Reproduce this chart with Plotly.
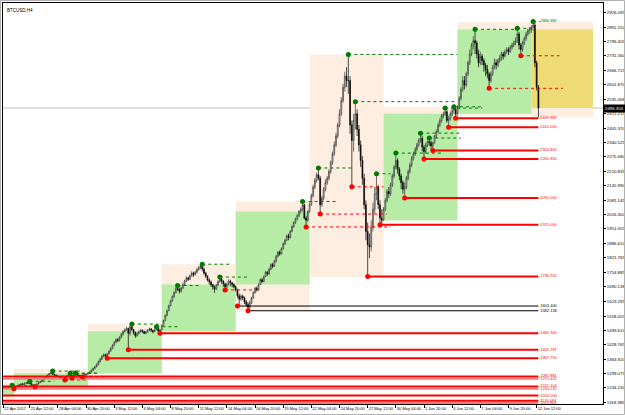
import plotly.graph_objects as go
import pandas as pd

# ---------------- data (BTCUSD H4) ----------------
start = pd.Timestamp("2017-04-22 20:00")
open0 = 1228
close = [1236,1232,1238,1241,1237,1240,1242,1235,1238,1244,
         1248,1252,1250,1255,1258,1256,1254,1248,1244,1246,
         1252,1258,1264,1270,1278,1285,1292,1298,1302,1296,
         1292,1288,1284,1280,1278,1275,1282,1288,1294,1290,
         1286,1294,1296,1292,1290,1288,1290,1294,1296,1300,
         1306,1314,1322,1330,1340,1352,1364,1376,1384,1378,
         1388,1400,1412,1426,1440,1452,1448,1462,1476,1488,
         1496,1502,1480,1510,1498,1484,1470,1478,1488,1494,
         1488,1480,1486,1494,1500,1494,1488,1496,1504,1490,
         1496,1516,1538,1560,1582,1604,1626,1646,1664,1682,
         1680,1670,1684,1700,1716,1730,1724,1740,1752,1746,
         1756,1768,1776,1782,1770,1752,1738,1722,1712,1700,
         1690,1680,1698,1714,1726,1716,1704,1690,1702,1716,1708,1700,
         1690,1676,1650,1634,1648,1640,1622,1610,1598,1618,
         1640,1664,1684,1676,1700,1722,1714,1736,1756,1748,
         1770,1790,1782,1806,1828,1846,1838,1862,1884,1900,
         1920,1912,1940,1962,1980,1996,2012,2030,
         2040,2060,2000,1990,2030,2060,
         2100,2140,2170,2195,2180,
         2060,
         2090,2130,2160,2180,2210,2250,2290,2330,2370,2420,2470,2530,2590,2640,2620,
         2620,2420,2350,2440,2470,
         2400,2330,2260,2180,2060,1940,1880,1870,1960,2040,
         2110,2140,2060,2000,1990,
         2040,2080,2120,2110,2150,2190,2230,2260,
         2220,2190,2160,2130,2140,
         2180,2210,2240,2270,2290,2310,2330,2350,2360,
         2320,2300,2330,2345,2340,2325,2340,
         2370,2390,2420,2440,2460,2470,2480,
         2440,2450,2470,2485,2490,2470,
         2500,2540,2580,2620,2600,2650,2700,2740,2780,2800,2790,
         2740,2700,2730,2710,2690,2670,2650,
         2620,
         2650,2680,2700,2690,2710,2720,2740,2730,2750,2760,2750,2770,2780,2790,2800,
         2830,2780,2760,
         2790,2810,2830,2845,2850,
         2860,2870,2700,2590,2496.353]
high = [1240,1238,1242,1244,1242,1243,1246,1243,1242,1248,
        1250,1255,1256,1258,1260,1262,1264,1256,1250,1249,
        1254,1260,1266,1273,1281,1288,1295,1302,1306,1310,
        1298,1294,1290,1286,1282,1280,1285,1291,1297,1300,
        1292,1297,1301,1298,1294,1292,1293,1297,1299,1303,
        1308,1318,1326,1334,1345,1358,1370,1382,1390,1388,
        1392,1404,1418,1432,1446,1458,1458,1468,1482,1494,
        1502,1510,1506,1516,1522,1500,1488,1486,1494,1500,
        1498,1492,1492,1500,1506,1504,1496,1502,1510,1508,
        1500,1520,1542,1566,1588,1610,1632,1652,1670,1690,
        1696,1686,1690,1708,1722,1738,1736,1746,1760,1758,
        1762,1774,1784,1788,1792,1776,1758,1742,1728,1718,
        1702,1696,1704,1720,1734,1730,1720,1708,1710,1724,1722,1712,
        1706,1696,1682,1660,1656,1654,1646,1630,1620,1628,
        1646,1670,1690,1692,1706,1728,1730,1742,1762,1762,
        1776,1796,1798,1812,1834,1852,1854,1868,1890,1906,
        1926,1930,1946,1968,1986,2002,2018,2036,
        2048,2075,2064,2010,2036,2070,
        2110,2150,2180,2205,2226,
        2190,
        2100,2140,2175,2190,2220,2260,2300,2345,2385,2430,2490,2545,2605,2660,2680,
        2738,2640,2440,2470,2525,
        2490,2420,2350,2280,2200,2080,1980,1930,1990,2070,
        2140,2200,2150,2080,2040,
        2050,2090,2130,2140,2160,2200,2240,2293,
        2270,2230,2200,2170,2160,
        2190,2220,2250,2280,2300,2320,2340,2360,2383,
        2370,2330,2340,2350,2361,2350,2345,
        2375,2400,2430,2450,2470,2480,2496,
        2490,2460,2480,2495,2502,2495,
        2510,2550,2590,2640,2640,2660,2710,2760,2790,2820,2851,
        2800,2760,2750,2740,2720,2700,2690,
        2660,
        2660,2690,2720,2715,2720,2735,2750,2750,2760,2770,2770,2780,2790,2800,2815,
        2856,2840,2790,
        2800,2820,2840,2855,2862,
        2870,2886.881,2880,2710,2600]
low = [1226,1228,1230,1236,1233,1235,1238,1230,1233,1236,
       1242,1246,1247,1249,1253,1252,1250,1246,1241,1240,
       1244,1250,1256,1262,1268,1276,1284,1290,1296,1292,
       1288,1284,1280,1276,1274,1271,1270,1281,1286,1286,
       1279,1285,1290,1288,1286,1285,1284,1288,1288,1294,
       1296,1302,1310,1318,1326,1336,1348,1360,1372,1370,
       1367.75,1384,1398,1408,1422,1436,1440,1444,1458,1470,
       1484,1490,1405.787,1470,1490,1474,1460,1464,1476,1484,
       1482,1482,1476,1484,1490,1486,1480,1486,1494,1484,
       1480.3,1494,1514,1536,1558,1580,1602,1622,1640,1660,
       1672,1660,1664,1680,1698,1712,1716,1720,1736,1734,
       1740,1750,1762,1770,1760,1744,1730,1714,1700,1690,
       1676,1662,1676,1694,1708,1702,1690,1676,1684,1696,1694,1688,
       1684,1668,1640,1603.4,1628,1630,1612,1600,1582.158,1590,
       1612,1636,1660,1668,1672,1698,1706,1712,1734,1740,
       1744,1764,1774,1780,1800,1822,1830,1836,1858,1878,
       1896,1900,1908,1936,1956,1974,1990,2004,
       2020,2030,1994,1960,1984,2024,
       2056,2094,2130,2160,2170,
       2018,
       2050,2080,2120,2150,2170,2200,2240,2280,2320,2360,2410,2460,2520,2570,2590,
       2560,2380,2141,2300,2400,
       2370,2300,2230,2150,2040,1900,1736.921,1820,1850,1940,
       2020,2080,2040,1970,1975,
       1988,2030,2070,2090,2100,2140,2180,2220,
       2200,2170,2130,2110,2090,
       2130,2170,2200,2230,2260,2280,2300,2320,2340,
       2300,2265.85,2290,2320,2325,2310,2304.85,
       2335,2360,2385,2410,2430,2450,2460,
       2430,2410,2440,2460,2470,2449.882,
       2462,2490,2530,2570,2580,2590,2640,2690,2730,2760,2740,
       2720,2680,2690,2690,2660,2640,2630,
       2585,
       2610,2640,2670,2670,2680,2700,2710,2715,2725,2740,2735,2745,2760,2770,2780,
       2790,2760,2732,
       2750,2780,2800,2820,2830,
       2835,2845,2680,2575,2455]

# weekly ranges (open/close box, high/low box)
week_start = ["2017-04-17", "2017-04-24", "2017-05-01", "2017-05-08", "2017-05-15",
              "2017-05-22", "2017-05-29", "2017-06-05", "2017-06-12"]
week_end_last = "2017-06-17 20:00"
week_open = [1195, 1242, 1300, 1490, 1700, 2030, 1990, 2470, 2850]
week_close = [1242, 1300, 1490, 1700, 2030, 1990, 2470, 2850, 2496.353]
week_high = [1262, 1320, 1522, 1792, 2075, 2738, 2502, 2884, 2886.881]
week_low = [1180, 1230, 1296, 1480, 1582, 1734, 1988, 2462, 2455]

# swing highs (bar index, price, end of dotted line)
hi_bar = [6, 16, 29, 39, 42, 74, 88, 100, 114, 124, 171, 180, 197, 201, 213, 224, 238, 243, 252, 257, 269, 293, 302]
hi_price = [1246, 1264, 1310, 1300, 1301, 1522, 1510, 1696, 1792, 1734, 2075, 2226, 2738, 2525, 2200, 2293, 2383, 2361, 2496, 2502, 2851, 2856, 2886.881]
hi_end = [20, 30, 45, 55, 55, 90, 100, 112, 130, 140, 190, 199, 259, 259, 221, 251, 261, 261, 273, 273, 293, 302, 306]

# swing lows (bar index, price, end of dotted line, None = solid level)
lo_bar = [7, 19, 36, 40, 46, 60, 72, 90, 127, 134, 140, 173, 181, 199, 208, 215, 229, 240, 245, 254, 258, 277, 295]
lo_price = [1230, 1240, 1270, 1279, 1284, 1367.75, 1405.787, 1480.3, 1676, 1603.4, 1582.158, 1960, 2018, 2141, 1736.921, 1970, 2090, 2265.85, 2304.85, 2410, 2449.882, 2585, 2732]
lo_end = [20, 30, 48, 55, 60, None, None, None, 145, None, None, 221, 219, 217, None, None, None, None, None, None, None, 319, 317]

# solid levels running to the last bar
lvl_price = [2449.882, 2410.000, 2304.850, 2265.850, 2090.000, 1970.000, 1736.921,
             1603.400, 1582.158, 1480.300, 1405.787, 1367.750,
             1285.881, 1275.425, 1241.104, 1230.215, 1200.000, 1176.094, 1165.864]
lvl_start = [258, 254, 245, 240, 229, 215, 208, 134, 140, 90, 72, 60,
             -20, -20, -20, -20, -20, -20, -20]
lvl_kind = ["r", "r", "r", "r", "r", "r", "r", "k", "k", "r", "r", "r",
            "r", "p", "r", "p", "r", "r", "p"]

current_price = 2496.353

ytick_vals = [2926.095, 2861.250, 2796.405, 2731.560, 2666.715, 2601.870, 2535.068, 2472.215,
              2405.370, 2340.525, 2275.680, 2210.835, 2145.990, 2081.145, 2016.300, 1951.455,
              1886.610, 1821.765, 1754.885, 1690.138, 1623.295, 1558.455, 1493.610, 1428.765,
              1363.920, 1299.075, 1234.230, 1169.385]
xtick_times = ["2017-04-23 00:00", "2017-04-25 12:00", "2017-04-28 04:00", "2017-04-30 20:00",
               "2017-05-03 12:00", "2017-05-06 04:00", "2017-05-08 20:00", "2017-05-11 12:00",
               "2017-05-14 04:00", "2017-05-16 20:00", "2017-05-19 12:00", "2017-05-22 04:00",
               "2017-05-24 20:00", "2017-05-27 12:00", "2017-05-30 04:00", "2017-06-01 20:00",
               "2017-06-04 12:00", "2017-06-07 04:00", "2017-06-09 20:00", "2017-06-12 12:00"]
xtick_text = ["22 Apr 2017", "25 Apr 12:00", "28 Apr 04:00", "30 Apr 20:00", "3 May 12:00",
              "6 May 04:00", "8 May 20:00", "11 May 12:00", "14 May 04:00", "16 May 20:00",
              "19 May 12:00", "22 May 04:00", "24 May 20:00", "27 May 12:00", "30 May 04:00",
              "1 Jun 20:00", "4 Jun 12:00", "7 Jun 04:00", "9 Jun 20:00", "12 Jun 12:00"]

# ---------------- figure ----------------
def t(i):
    return start + pd.Timedelta(hours=4 * i)

times = pd.date_range(start, periods=len(close), freq="4h")
opens = [open0] + close[:-1]
last = len(close) - 1

PEACH = "#fdeee1"
GREEN = "#b6eca6"
YELLOW = "#eedb74"
RED = "#ff0000"
PINK = "#ff7a7a"
DGREEN = "#007a00"
FONT = "Liberation Sans"

W_PLOT, H_PLOT = 600, 401

fig = go.Figure()
shapes = []
for k in range(len(week_start)):
    x0 = pd.Timestamp(week_start[k])
    x1 = pd.Timestamp(week_start[k + 1]) if k + 1 < len(week_start) else pd.Timestamp(week_end_last)
    shapes.append(dict(type="rect", xref="x", yref="y", x0=x0, x1=x1,
                       y0=week_low[k], y1=week_high[k], fillcolor=PEACH,
                       line=dict(width=0), layer="below"))
for k in range(len(week_start)):
    x0 = pd.Timestamp(week_start[k])
    x1 = pd.Timestamp(week_start[k + 1]) if k + 1 < len(week_start) else pd.Timestamp(week_end_last)
    current = k == len(week_start) - 1
    if current:
        col = YELLOW
    elif week_close[k] > week_open[k]:
        col = GREEN
    else:
        continue
    shapes.append(dict(type="rect", xref="x", yref="y", x0=x0, x1=x1,
                       y0=week_open[k], y1=week_close[k], fillcolor=col,
                       line=dict(width=0), layer="below"))
shapes.append(dict(type="line", xref="paper", yref="y", x0=0, x1=1,
                   y0=current_price, y1=current_price,
                   line=dict(color="#bdbdbd", width=1), layer="below"))
# outer frame of the window
shapes.append(dict(type="rect", xref="paper", yref="paper",
                   x0=-2.5 / W_PLOT, x1=621.5 / W_PLOT,
                   y0=-10.5 / H_PLOT, y1=1 + 2.5 / H_PLOT,
                   line=dict(color="#b0b0b0", width=1),
                   fillcolor="rgba(0,0,0,0)", layer="above"))

# dotted lines from swing points
gx, gy = [], []
for b, p, e in zip(hi_bar, hi_price, hi_end):
    gx += [t(b), t(e), None]
    gy += [p, p, None]
fig.add_trace(go.Scatter(x=gx, y=gy, mode="lines", line=dict(color=DGREEN, width=1, dash="dot"),
                         hoverinfo="skip", showlegend=False))
rx, ry = [], []
for b, p, e in zip(lo_bar, lo_price, lo_end):
    if e is not None:
        rx += [t(b), t(e), None]
        ry += [p, p, None]
fig.add_trace(go.Scatter(x=rx, y=ry, mode="lines", line=dict(color=RED, width=1, dash="dot"),
                         hoverinfo="skip", showlegend=False))

# solid levels
for kind, col, w in [("r", RED, 2), ("p", PINK, 2), ("k", "#000000", 1)]:
    lx, ly = [], []
    for p, s, kd in zip(lvl_price, lvl_start, lvl_kind):
        if kd == kind:
            lx += [t(s), t(last), None]
            ly += [p, p, None]
    fig.add_trace(go.Scatter(x=lx, y=ly, mode="lines", line=dict(color=col, width=w),
                             hoverinfo="skip", showlegend=False))

# candles
fig.add_trace(go.Candlestick(x=times, open=opens, high=high, low=low, close=close,
                             increasing=dict(line=dict(color="#333333", width=0.7), fillcolor="#ffffff"),
                             decreasing=dict(line=dict(color="#000000", width=0.7), fillcolor="#000000"),
                             whiskerwidth=0, showlegend=False, hoverinfo="skip"))

# swing markers
fig.add_trace(go.Scatter(x=[t(b) for b in hi_bar], y=hi_price, mode="markers",
                         marker=dict(color=DGREEN, size=5), showlegend=False, hoverinfo="skip"))
fig.add_trace(go.Scatter(x=[t(b) for b in lo_bar], y=lo_price, mode="markers",
                         marker=dict(color=RED, size=5), showlegend=False, hoverinfo="skip"))

# level labels
lab_col = {"r": RED, "p": RED, "k": "#000000"}
fig.add_trace(go.Scatter(x=[t(last + 1)] * len(lvl_price), y=lvl_price, mode="text",
                         text=[f"{p:.3f}" for p in lvl_price], textposition="middle right",
                         textfont=dict(family=FONT, size=4, color=[lab_col[k] for k in lvl_kind]),
                         showlegend=False, hoverinfo="skip"))
fig.add_trace(go.Scatter(x=[t(last + 1)], y=[hi_price[-1]], mode="text",
                         text=[f"{hi_price[-1]:.3f}"], textposition="middle right",
                         textfont=dict(family=FONT, size=4, color=DGREEN),
                         showlegend=False, hoverinfo="skip"))

fig.update_layout(
    width=625, height=415,
    margin=dict(l=3, r=22, t=3, b=11, autoexpand=False),
    paper_bgcolor="#ffffff", plot_bgcolor="#ffffff",
    shapes=shapes,
    font=dict(family=FONT, size=5, color="#000000"),
    xaxis=dict(type="date", range=[t(0.8), t(341.7)], rangeslider=dict(visible=False),
               showgrid=False, zeroline=False, showline=True, linecolor="#000000", mirror=True,
               tickvals=[pd.Timestamp(s) for s in xtick_times], ticktext=xtick_text,
               tickangle=0, automargin=False,
               ticks="outside", ticklen=3, tickcolor="#000000",
               ticklabelposition="outside right", tickfont=dict(family=FONT, size=4)),
    yaxis=dict(range=[1161.7, 2969.8], side="right", showgrid=False, zeroline=False,
               showline=True, linecolor="#000000", mirror=True, automargin=False,
               tickvals=ytick_vals, ticktext=[f"{v:.3f}" for v in ytick_vals],
               ticks="outside", ticklen=2, tickcolor="#000000",
               tickfont=dict(family=FONT, size=4.3)),
    annotations=[
        dict(xref="paper", yref="paper", x=0.004, y=0.992, xanchor="left", yanchor="top",
             text="BTCUSD,H4", showarrow=False, font=dict(family=FONT, size=4.5, color="#000000")),
        dict(xref="paper", yref="y", x=1.0, y=current_price, xanchor="left", yanchor="middle",
             text=f"{current_price:.3f}", showarrow=False, bgcolor="#000000", borderpad=1,
             font=dict(family=FONT, size=4.3, color="#ffffff")),
    ],
)

fig.write_html("out.html")
